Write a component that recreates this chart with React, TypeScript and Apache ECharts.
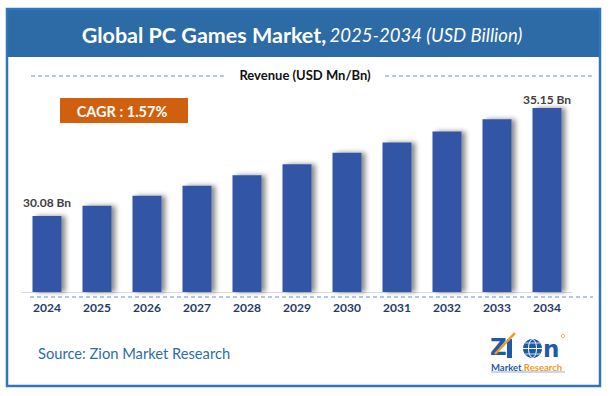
import React, { useEffect, useRef } from "react";
import * as echarts from "echarts";

const years = ["2024", "2025", "2026", "2027", "2028", "2029", "2030", "2031", "2032", "2033", "2034"];
const revenue = [30.08, 30.56, 31.03, 31.5, 31.99, 32.51, 33.05, 33.53, 34.05, 34.63, 35.15];
const titleMain = "Global PC Games Market,";
const titleSub = "2025-2034 (USD Billion)";
const legendText = "Revenue (USD Mn/Bn)";
const cagrText = "CAGR : 1.57%";
const sourceText = "Source: Zion Market Research";

const FONT = "Lato, 'Open Sans', sans-serif";
const LOGO_FONT = "'DejaVu Sans', 'Liberation Sans', sans-serif";

export default function App() {
  const ref = useRef<HTMLDivElement>(null);
  useEffect(() => {
    if (!ref.current) return;
    const chart = echarts.init(ref.current, null, { renderer: "svg" });
    const last = revenue.length - 1;
    const option: any = {
      animation: false,
      backgroundColor: "#ffffff",
      grid: { left: 22, width: 550, top: 90, bottom: 104, containLabel: false },
      xAxis: {
        type: "category",
        data: years,
        axisLine: { lineStyle: { color: "#D9D9D9", width: 1 } },
        axisTick: { show: false },
        axisLabel: { color: "#263A6B", fontWeight: "bold", fontSize: 12, fontFamily: FONT, margin: 9 },
      },
      yAxis: { type: "value", min: 26.5, max: 36, show: false, splitLine: { show: false } },
      series: [
        {
          type: "bar",
          barWidth: 29,
          data: revenue.map((v, i) => ({
            value: v,
            label: {
              show: i === 0 || i === last,
              position: "top",
              distance: i === 0 ? 7 : 3,
              formatter: () => v.toFixed(2) + " Bn",
              color: "#404040",
              fontSize: 12,
              fontWeight: "bold",
              fontFamily: FONT,
            },
          })),
          itemStyle: {
            color: "#3256A5",
            shadowColor: "rgba(0,0,0,0.45)",
            shadowBlur: 5,
            shadowOffsetX: 4,
            shadowOffsetY: 0,
          },
        },
      ],
      graphic: [
        { type: "rect", shape: { x: 7, y: 9, width: 593, height: 377 }, style: { fill: "none", stroke: "#2F76BA", lineWidth: 2.5 }, z: 10 },
        { type: "rect", shape: { x: 7, y: 9, width: 593, height: 48 }, style: { fill: "#2D6BA6" }, z: 9 },
        {
          type: "text",
          x: 302,
          y: 35,
          z: 11,
          style: {
            text: "{a|" + titleMain + "} {b|" + titleSub + "}",
            align: "center",
            verticalAlign: "middle",
            rich: {
              a: { fill: "#ffffff", fontSize: 21.5, fontWeight: "bold", fontFamily: FONT },
              b: { fill: "#ffffff", fontSize: 18.5, fontStyle: "italic", fontFamily: FONT },
            },
          },
        },
        { type: "line", shape: { x1: 31, y1: 76, x2: 225, y2: 76 }, style: { stroke: "#6A8FD0", lineWidth: 1, lineDash: [4, 3] } },
        { type: "line", shape: { x1: 385, y1: 76, x2: 593, y2: 76 }, style: { stroke: "#6A8FD0", lineWidth: 1, lineDash: [4, 3] } },
        {
          type: "text",
          x: 305,
          y: 75,
          style: { text: legendText, align: "center", verticalAlign: "middle", fill: "#111111", fontSize: 13, fontWeight: "bold", fontFamily: FONT },
        },
        { type: "rect", shape: { x: 60, y: 98, width: 128, height: 25 }, style: { fill: "#D0600E" } },
        {
          type: "text",
          x: 122,
          y: 111,
          style: { text: cagrText, align: "center", verticalAlign: "middle", fill: "#ffffff", fontSize: 14.5, fontWeight: "bold", fontFamily: FONT },
        },
        { type: "line", shape: { x1: 30, y1: 297, x2: 593, y2: 297 }, style: { stroke: "#6A8FD0", lineWidth: 1, lineDash: [4, 3] } },
        {
          type: "text",
          x: 38,
          y: 353,
          style: { text: sourceText, align: "left", verticalAlign: "middle", fill: "#2E6DA8", fontSize: 14.7, fontFamily: FONT },
        },
        // logo
        { type: "text", x: 490, y: 347, style: { text: "Z", align: "left", verticalAlign: "middle", fill: "#1E5AA8", fontSize: 23, fontWeight: "bold", fontFamily: LOGO_FONT } },
        { type: "rect", shape: { x: 507, y: 339, width: 5, height: 19 }, style: { fill: "#1E5AA8" } },
        { type: "line", shape: { x1: 495, y1: 354, x2: 515, y2: 333 }, style: { stroke: "#F39A1E", lineWidth: 2.5 } },
        { type: "circle", shape: { cx: 532.5, cy: 348.5, r: 9.5 }, style: { fill: "#1E5AA8" } },
        { type: "ellipse", shape: { cx: 532.5, cy: 348.5, rx: 4, ry: 9 }, style: { fill: "none", stroke: "#ffffff", lineWidth: 1 } },
        { type: "line", shape: { x1: 523, y1: 348.5, x2: 542, y2: 348.5 }, style: { stroke: "#ffffff", lineWidth: 1 } },
        { type: "line", shape: { x1: 525, y1: 343, x2: 540, y2: 343 }, style: { stroke: "#ffffff", lineWidth: 0.8 } },
        { type: "line", shape: { x1: 525, y1: 354, x2: 540, y2: 354 }, style: { stroke: "#ffffff", lineWidth: 0.8 } },
        { type: "text", x: 543, y: 349, style: { text: "n", align: "left", verticalAlign: "middle", fill: "#1E5AA8", fontSize: 23, fontWeight: "bold", fontFamily: LOGO_FONT } },
        { type: "circle", shape: { cx: 563, cy: 336, r: 1.6 }, style: { fill: "none", stroke: "#F39A1E", lineWidth: 0.8 } },
        {
          type: "text",
          x: 491,
          y: 367,
          style: {
            text: "{m|Market}{r|.Research}",
            align: "left",
            verticalAlign: "middle",
            rich: {
              m: { fill: "#1E5AA8", fontSize: 9.5, fontWeight: "bold", fontFamily: FONT },
              r: { fill: "#F39A1E", fontSize: 9.5, fontWeight: "bold", fontFamily: FONT },
            },
          },
        },
        { type: "line", shape: { x1: 491, y1: 372, x2: 565, y2: 372 }, style: { stroke: "#8FB0DA", lineWidth: 1 } },
      ],
    };
    chart.setOption(option);
    return () => chart.dispose();
  }, []);
  return <div ref={ref} style={{ width: 613, height: 396, position: "absolute", left: 0, top: 0 }} />;
}
